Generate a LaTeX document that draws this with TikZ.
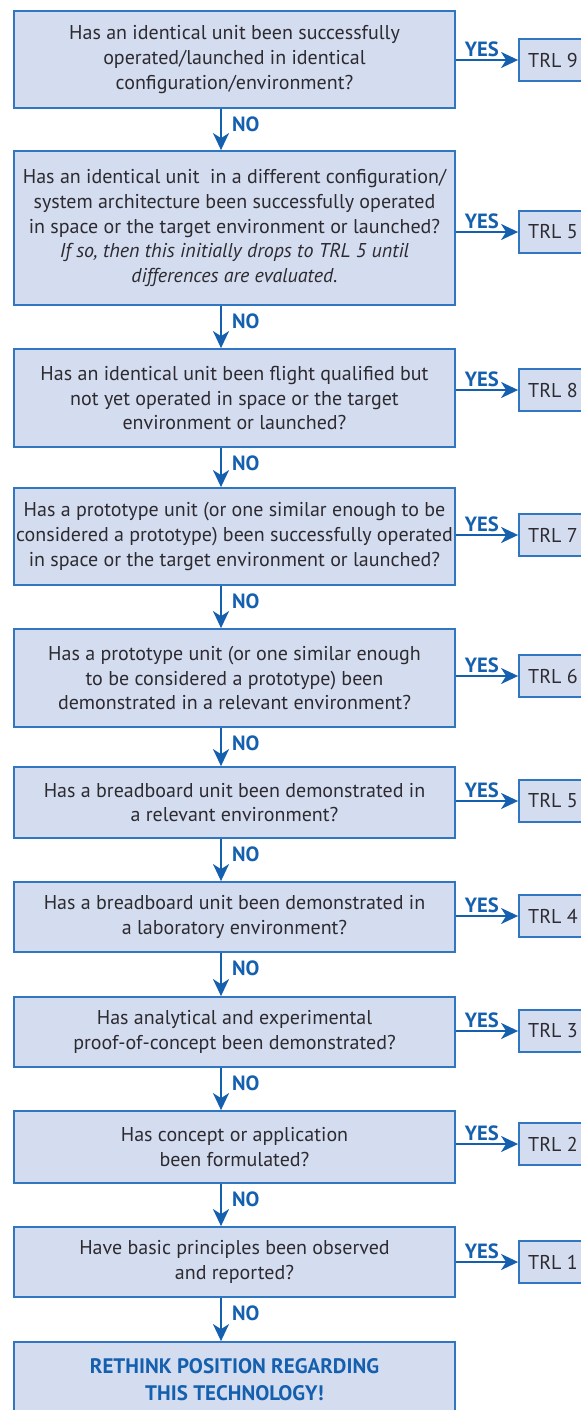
\documentclass[tikz,border=0pt]{standalone}
\usepackage{fontspec}
\setmainfont{PT Sans}
\usetikzlibrary{arrows.meta}
\definecolor{boxfill}{RGB}{212,221,240}
\definecolor{boxline}{RGB}{48,118,192}
\definecolor{flowblue}{RGB}{20,96,175}
\definecolor{qtext}{RGB}{45,42,48}

\begin{document}
\begin{tikzpicture}[x=0.5pt,y=-0.5pt,
  question/.style={draw=boxline,line width=.9pt,fill=boxfill,minimum width=220.5pt,inner xsep=0.5pt,align=center,text=qtext,font=\fontsize{10}{12.3}\selectfont},
  trl/.style={draw=boxline,line width=.9pt,fill=boxfill,minimum width=34pt,minimum height=21pt,text=qtext,font=\fontsize{10}{12}\selectfont},
  flow/.style={flowblue,line width=1pt,-{Stealth[length=8.5pt,width=8pt,inset=2.5pt]}},
  tag/.style={text=flowblue,font=\bfseries\fontsize{10.3}{11}\selectfont,inner sep=1pt}
]
  \useasboundingbox (0,0) rectangle (580,1410);

  % question boxes
  \node[question,minimum height=48.5pt] (q1) at (234.5,59.5)
    {Has an identical unit been successfully\\operated/launched in identical\\configuration/environment?};
  \node[question,minimum height=77pt] (q2) at (234.5,228)
    {Has an identical unit\ \ in a different configuration/\\system architecture been successfully operated\\in space or the target environment or launched?\\\itshape If so, then this initially drops to TRL 5 until\\\itshape differences are evaluated.};
  \node[question,minimum height=49pt] (q3) at (234.5,398)
    {Has an identical unit been flight qualified but\\not yet operated in space or the target\\environment or launched?};
  \node[question,minimum height=48.5pt] (q4) at (234.5,536.5)
    {Has a prototype unit (or one similar enough to be\\considered a prototype) been successfully operated\\in space or the target environment or launched?};
  \node[question,minimum height=49pt] (q5) at (234.5,678)
    {Has a prototype unit (or one similar enough\\to be considered a prototype) been\\demonstrated in a relevant environment?};
  \node[question,minimum height=35.5pt] (q6) at (234.5,802.5)
    {Has a breadboard unit been demonstrated in\\a relevant environment?};
  \node[question,minimum height=35pt] (q7) at (234.5,917)
    {Has a breadboard unit been demonstrated in\\a laboratory environment?};
  \node[question,minimum height=35pt] (q8) at (234.5,1032)
    {Has analytical and experimental\\proof-of-concept been demonstrated?};
  \node[question,minimum height=36pt] (q9) at (234.5,1147)
    {Has concept or application\\been formulated?};
  \node[question,minimum height=35pt] (q10) at (234.5,1262)
    {Have basic principles been observed\\and reported?};
  \node[question,minimum height=38pt,text=flowblue,font=\bfseries\fontsize{10.5}{13.5}\selectfont] (rethink) at (234.5,1380)
    {RETHINK POSITION REGARDING\\THIS TECHNOLOGY!};

  % readiness levels
  \node[trl] (t9) at (553,60) {TRL 9};
  \node[trl] (t5a) at (553,232) {TRL 5};
  \node[trl] (t8) at (553,390) {TRL 8};
  \node[trl] (t7) at (553,535) {TRL 7};
  \node[trl] (t6) at (553,676) {TRL 6};
  \node[trl] (t5b) at (553,801) {TRL 5};
  \node[trl] (t4) at (553,916) {TRL 4};
  \node[trl] (t3) at (553,1031) {TRL 3};
  \node[trl] (t2) at (553,1144) {TRL 2};
  \node[trl] (t1) at (553,1262) {TRL 1};

  % yes branches
  \draw[flow] (q1.east |- t9) -- node[tag,at start,anchor=south west,xshift=3pt]{YES} (t9.west);
  \draw[flow] (q2.east |- t5a) -- node[tag,at start,anchor=south west,xshift=3pt]{YES} (t5a.west);
  \draw[flow] (q3.east |- t8) -- node[tag,at start,anchor=south west,xshift=3pt]{YES} (t8.west);
  \draw[flow] (q4.east |- t7) -- node[tag,at start,anchor=south west,xshift=3pt]{YES} (t7.west);
  \draw[flow] (q5.east |- t6) -- node[tag,at start,anchor=south west,xshift=3pt]{YES} (t6.west);
  \draw[flow] (q6.east |- t5b) -- node[tag,at start,anchor=south west,xshift=3pt]{YES} (t5b.west);
  \draw[flow] (q7.east |- t4) -- node[tag,at start,anchor=south west,xshift=3pt]{YES} (t4.west);
  \draw[flow] (q8.east |- t3) -- node[tag,at start,anchor=south west,xshift=3pt]{YES} (t3.west);
  \draw[flow] (q9.east |- t2) -- node[tag,at start,anchor=south west,xshift=3pt]{YES} (t2.west);
  \draw[flow] (q10.east |- t1) -- node[tag,at start,anchor=south west,xshift=3pt]{YES} (t1.west);

  % no branches
  \coordinate (nox) at (221,0);
  \draw[flow] (q1.south -| nox) -- node[tag,at start,anchor=north west,xshift=4pt,yshift=-2.5pt]{NO} (q2.north -| nox);
  \draw[flow] (q2.south -| nox) -- node[tag,at start,anchor=north west,xshift=4pt,yshift=-2.5pt]{NO} (q3.north -| nox);
  \draw[flow] (q3.south -| nox) -- node[tag,at start,anchor=north west,xshift=4pt,yshift=-2.5pt]{NO} (q4.north -| nox);
  \draw[flow] (q4.south -| nox) -- node[tag,at start,anchor=north west,xshift=4pt,yshift=-2.5pt]{NO} (q5.north -| nox);
  \draw[flow] (q5.south -| nox) -- node[tag,at start,anchor=north west,xshift=4pt,yshift=-2.5pt]{NO} (q6.north -| nox);
  \draw[flow] (q6.south -| nox) -- node[tag,at start,anchor=north west,xshift=4pt,yshift=-2.5pt]{NO} (q7.north -| nox);
  \draw[flow] (q7.south -| nox) -- node[tag,at start,anchor=north west,xshift=4pt,yshift=-2.5pt]{NO} (q8.north -| nox);
  \draw[flow] (q8.south -| nox) -- node[tag,at start,anchor=north west,xshift=4pt,yshift=-2.5pt]{NO} (q9.north -| nox);
  \draw[flow] (q9.south -| nox) -- node[tag,at start,anchor=north west,xshift=4pt,yshift=-2.5pt]{NO} (q10.north -| nox);
  \draw[flow] (q10.south -| nox) -- node[tag,at start,anchor=north west,xshift=4pt,yshift=-2.5pt]{NO} (rethink.north -| nox);
\end{tikzpicture}
\end{document}
